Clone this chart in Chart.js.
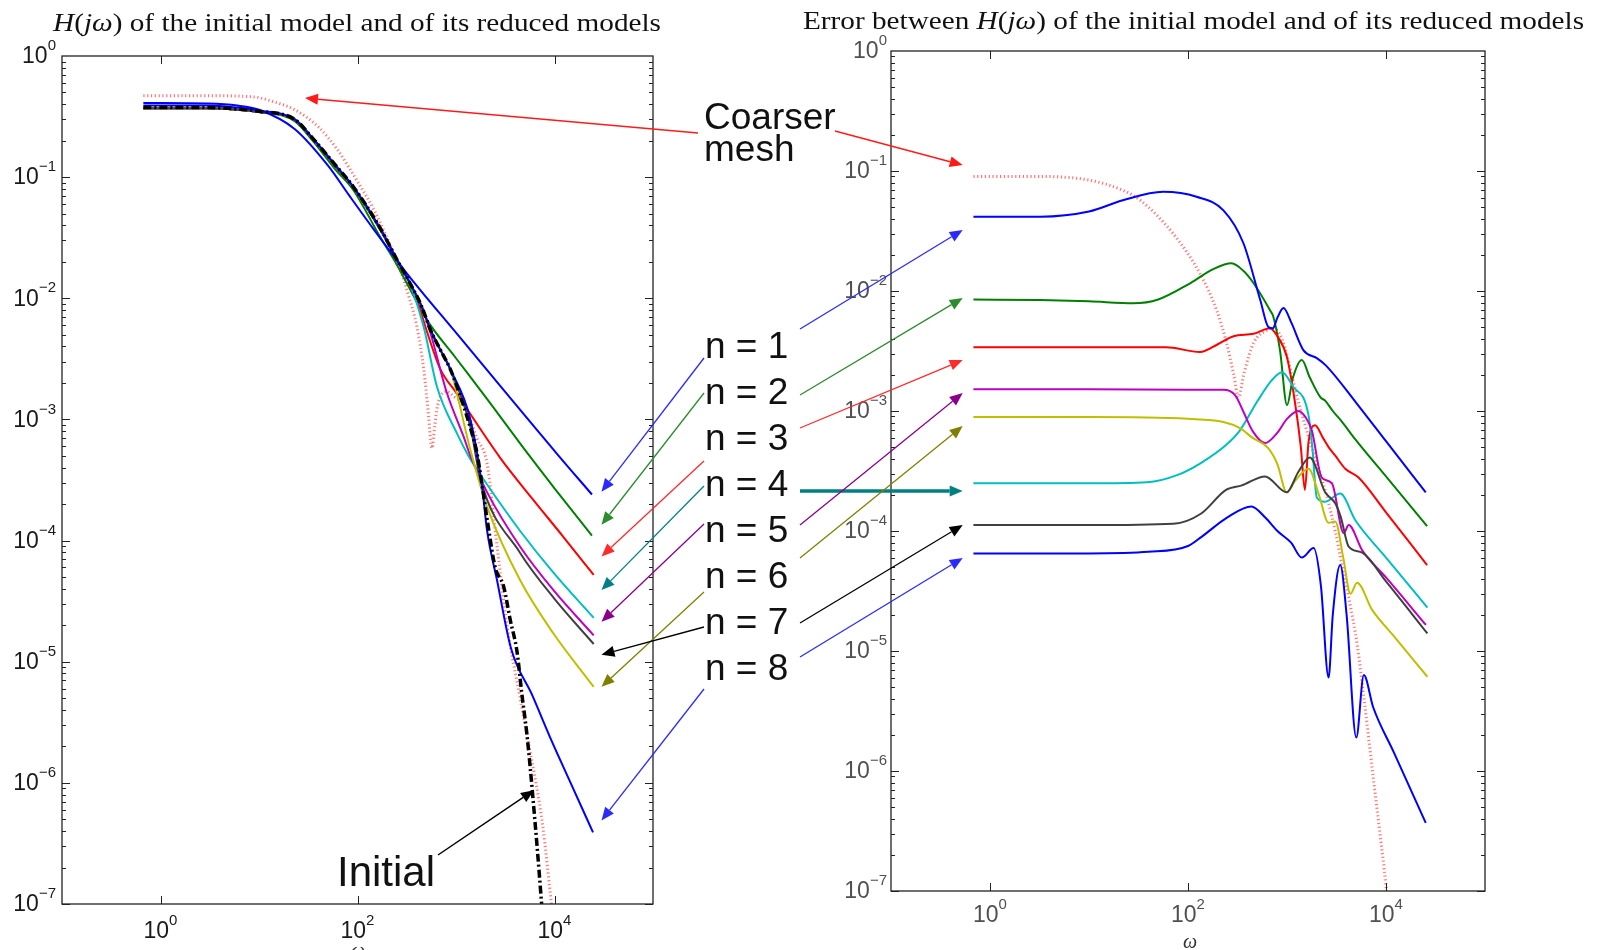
<!DOCTYPE html>
<html>
<head>
<meta charset="utf-8">
<script src="https://cdn.jsdelivr.net/npm/chart.js@4.4.0/dist/chart.umd.min.js"></script>
<style>
  body { margin: 0; width: 1600px; height: 950px; background: #fff; position: relative; overflow: hidden;
         font-family: "Liberation Sans", Arial, sans-serif; }
  canvas { position: absolute; top: 0; }
  #leftChart { left: 0; }
  #rightChart { left: 780px; }
  #overlay { left: 0; pointer-events: none; }
  .title { position: absolute; font-family: "Liberation Serif", serif; font-size: 26px; line-height: 1;
           white-space: nowrap; transform-origin: 0 0; color: #111; }
  .lbl { position: absolute; font-size: 37px; line-height: 1; white-space: nowrap; color: #111; }
  .axt { position: absolute; font-family: "Liberation Serif", serif; font-style: italic; font-size: 20px;
         line-height: 1; color: #333; }
</style>
</head>
<body>
<canvas id="leftChart" width="690" height="950"></canvas>
<canvas id="rightChart" width="820" height="950"></canvas>
<canvas id="overlay" width="1600" height="950"></canvas>

<div class="title" data-cx="357" data-w="608" style="top:10px"><i>H</i>(<i>jω</i>) of the initial model and of its reduced models</div>
<div class="title" data-cx="1193" data-w="781" style="top:8px">Error between <i>H</i>(<i>jω</i>) of the initial model and of its reduced models</div>
<div class="lbl" style="left:704px;top:98px">Coarser</div>
<div class="lbl" style="left:704px;top:130px">mesh</div>
<div class="lbl" style="left:337px;top:851px;font-size:42px">Initial</div>
<div class="axt" style="left:1183px;top:931px">ω</div>
<div class="axt" style="left:351px;top:940px">ω</div>

<script>
// axis ranges and tick labels (decade exponents)
const freqRange = [0.1, 1e5];
const magRange = [1e-7, 1];
const xTickExp = [0, 2, 4];
const yTickExp = [0, -1, -2, -3, -4, -5, -6, -7];

const modelLabels = ['n = 1', 'n = 2', 'n = 3', 'n = 4', 'n = 5', 'n = 6', 'n = 7', 'n = 8'];
const modelColors = ['#0000ff', '#008000', '#ff0000', '#00bfbf', '#bf00bf', '#bfbf00', '#404040', '#0000ff'];
const arrowColors = ['#2a2aff', '#2e8b2e', '#ff2a2a', '#008080', '#8b008b', '#808000', '#000000', '#2a2aff'];

// left panel: |H(jw)|, pairs [omega, magnitude]
const hCoarse = [[0.67,0.47],[3,0.47],[8.7,0.46],[14,0.42],[23,0.36],[40,0.26],[62,0.17],[100,0.092],[150,0.052],
  [205,0.03],[270,0.0175],[330,0.0105],[402,0.0058],[470,0.0026],[520,0.0012],[570,0.00058],[610,0.0009],
  [650,0.0013],[800,0.0017],[1000,0.0015],[1200,0.00135],[1630,0.0007],[2070,0.00043],[2610,0.00009],[3290,0.00002],
  [4480,0.000005],[5250,0.0000025],[7600,4.4e-7],[9300,1e-7],[10500,4e-8]];
const hInit = [[0.67,0.375],[3,0.375],[6,0.365],[10,0.35],[23,0.3],[35,0.21],[60,0.125],[91,0.083],[170,0.038],
  [250,0.021],[330,0.014],[450,0.0085],[550,0.0055],[700,0.0037],[875,0.0026],[1140,0.00145],[1400,0.00085],
  [1630,0.00053],[2070,0.00015],[2500,0.00006],[3040,0.000042],[3560,0.000022],[4170,0.000012],[4650,0.0000055],
  [5250,0.0000025],[6000,8e-7],[7400,1e-7],[8200,3e-8]];
const hN1 = [[0.67,0.41],[3,0.405],[6,0.39],[10,0.36],[23,0.25],[50,0.125],[83,0.07],[150,0.036],[318,0.016],
  [1000,0.0052],[10600,0.00052],[24000,0.00024]];
const hN2 = [[0.67,0.37],[3,0.37],[6,0.36],[10,0.345],[23,0.29],[35,0.2],[60,0.115],[91,0.078],[170,0.032],
  [250,0.019],[330,0.0125],[508,0.0066],[1000,0.0032],[2000,0.00153],[5680,0.00049],[10000,0.00027],[24000,0.00011]];
const hN3 = [[0.67,0.37],[3,0.37],[6,0.36],[10,0.345],[23,0.3],[35,0.21],[60,0.122],[91,0.082],[170,0.037],
  [250,0.021],[330,0.014],[400,0.0098],[500,0.0055],[693,0.0026],[1000,0.00167],[2820,0.00048],[6000,0.00022],
  [12000,0.00011],[25000,0.000052]];
const hN4 = [[0.67,0.37],[3,0.37],[6,0.36],[10,0.345],[23,0.3],[35,0.21],[60,0.122],[91,0.082],[170,0.037],
  [250,0.021],[330,0.014],[470,0.0058],[641,0.00186],[1020,0.00077],[1340,0.0005],[2070,0.00029],[4480,0.00012],
  [10000,0.000053],[25000,0.000023]];
const hN5 = [[0.67,0.37],[3,0.37],[6,0.36],[10,0.345],[23,0.3],[35,0.21],[60,0.122],[91,0.082],[170,0.037],
  [250,0.021],[330,0.014],[450,0.0085],[550,0.0052],[800,0.0017],[1195,0.00072],[1400,0.0005],[2070,0.00025],
  [4480,0.000089],[10000,0.000038],[25000,0.0000165]];
const hN6 = [[0.67,0.37],[3,0.37],[6,0.36],[10,0.345],[23,0.3],[35,0.21],[60,0.122],[91,0.082],[170,0.037],
  [250,0.021],[330,0.014],[450,0.0085],[550,0.0055],[700,0.0037],[875,0.0026],[1400,0.00056],[2070,0.00019],
  [4480,0.000047],[9800,0.000017],[25000,0.0000062]];
const hN7 = [[0.67,0.37],[3,0.37],[6,0.36],[10,0.345],[23,0.3],[35,0.21],[60,0.122],[91,0.082],[170,0.037],
  [250,0.021],[330,0.014],[450,0.0085],[550,0.0055],[700,0.0037],[875,0.0026],[1400,0.00087],[1770,0.00032],
  [4480,0.000079],[10000,0.000033],[25000,0.000014]];
const hN8 = [[0.67,0.39],[3,0.39],[6,0.375],[10,0.355],[23,0.3],[35,0.21],[60,0.125],[91,0.083],[170,0.038],
  [250,0.021],[330,0.014],[450,0.0085],[550,0.0055],[700,0.0037],[875,0.0026],[1400,0.001],[1840,0.00028],
  [2070,0.00012],[2610,0.000047],[3610,0.000013],[6000,0.0000052],[9400,0.0000022],[15000,9.5e-7],[24600,3.9e-7]];

// right panel: error magnitude, pairs [omega, error]
const eCoarse = [[0.68,0.09],[3.2,0.09],[10,0.084],[22,0.069],[33,0.057],[71,0.03],[132,0.014],[195,0.0069],
  [245,0.0037],[290,0.002],[323,0.0013],[370,0.0021],[460,0.0037],[625,0.0047],[720,0.0049],[900,0.0039],
  [1100,0.0021],[1339,0.0011],[1932,0.0004],[2500,0.0002],[3070,0.0001],[3564,0.000054],[4200,0.000028],
  [5140,0.000011],[6000,0.000004],[7420,9e-7],[8500,3.5e-7],[10000,1.1e-7],[10500,7e-8]];
const eN1 = [[0.68,0.0415],[3.2,0.0416],[10,0.046],[22,0.057],[56,0.067],[122,0.061],[228,0.047],[363,0.025],
  [537,0.0084],[650,0.005],[720,0.0049],[800,0.006],[922,0.0072],[1100,0.0055],[1470,0.0032],[2000,0.00276],
  [2467,0.0024],[5000,0.00117],[10000,0.00056],[25200,0.00021]];
const eN2 = [[0.68,0.0085],[3.2,0.0084],[10,0.0082],[28,0.0079],[50,0.0085],[105,0.0116],[180,0.0152],[275,0.017],
  [360,0.0148],[460,0.0116],[674,0.0069],[728,0.0061],[850,0.0032],[1000,0.00112],[1150,0.0019],[1410,0.00266],
  [1700,0.0019],[2180,0.0013],[2430,0.00122],[2900,0.001],[3564,0.00082],[4900,0.00058],[10000,0.000285],
  [26000,0.00011]];
const eN3 = [[0.68,0.0034],[10,0.0034],[60,0.0034],[132,0.0031],[200,0.0036],[288,0.0042],[460,0.0044],[674,0.0049],
  [800,0.0042],[1000,0.0028],[1200,0.0012],[1380,0.0005],[1515,0.00022],[1650,0.00055],[1920,0.00076],
  [2300,0.0006],[2630,0.0005],[3100,0.00042],[3880,0.00033],[5250,0.00028],[10000,0.000143],[26000,0.000052]];
const eN4 = [[0.68,0.00025],[10,0.00025],[38.6,0.000255],[80,0.000295],[136,0.00037],[242,0.00052],[335,0.00069],
  [500,0.0012],[700,0.0018],[890,0.0021],[1150,0.0016],[1650,0.00092],[1800,0.0005],[2000,0.00019],[2400,0.000175],
  [3450,0.000205],[4900,0.000123],[10000,0.00006],[26200,0.000023]];
const eN5 = [[0.68,0.00152],[10,0.00152],[100,0.0015],[228,0.0015],[300,0.00135],[360,0.001],[450,0.00068],
  [600,0.00054],[800,0.00066],[1000,0.00086],[1300,0.001],[1550,0.00088],[1780,0.00069],[2240,0.00028],
  [2840,0.00025],[3740,0.000096],[4200,0.000112],[5750,0.000069],[10000,0.000041],[25300,0.0000165]];
const eN6 = [[0.68,0.00089],[10,0.00089],[100,0.00086],[228,0.00081],[335,0.00072],[446,0.0006],[646,0.00049],
  [800,0.00036],[993,0.00021],[1200,0.00026],[1650,0.00033],[2100,0.0002],[2630,0.000117],[3070,0.00012],
  [3700,0.00006],[4370,0.00003],[5100,0.000037],[7250,0.000022],[12000,0.0000133],[26200,0.0000061]];
const eN7 = [[0.68,0.000112],[10,0.000112],[71,0.000115],[136,0.00014],[242,0.00022],[350,0.00024],[600,0.000285],
  [993,0.00021],[1300,0.00031],[1700,0.00041],[2430,0.00021],[3070,0.00017],[3500,0.00013],[4200,0.000074],
  [5750,0.000066],[10000,0.000038],[26200,0.000014]];
const eN8 = [[0.68,0.000065],[10,0.000065],[40,0.000067],[100,0.000075],[136,0.000089],[250,0.00013],[437,0.00016],
  [600,0.00013],[800,0.0001],[1100,0.00008],[1410,0.00006],[1860,0.000072],[2200,0.000035],[2630,0.000006],
  [2900,0.00002],[3450,0.000052],[4000,0.00002],[5010,0.0000019],[5970,0.0000063],[7420,0.0000034],
  [12000,0.00000143],[25200,3.7e-7]];

// where the annotation arrows point, in data units of each panel
const leftTips = [[3e4,2.53e-4],[3e4,1.35e-4],[3e4,7.4e-5],[3e4,3.9e-5],[3e4,2.14e-5],[3e4,6.2e-6],[3e4,1.14e-5],[3e4,4.9e-7]];
const rightTips = [[0.53,0.0322],[0.53,8.74e-3],[0.53,2.66e-3],[0.53,2.15e-4],[0.53,1.41e-3],[0.53,7.5e-4],[0.53,1.12e-4],[0.53,5.96e-5]];
const coarseTips = [[29.3, 0.45], [0.53, 0.112]];
const initialTip = [6190, 8.7e-7];

function pts(arr) { return arr.map(p => ({ x: p[0], y: p[1] })); }

function solid(arr, color) {
  return { data: pts(arr), borderColor: color, borderWidth: 2 };
}
function coarse(arr) {
  return { data: pts(arr), borderColor: 'rgba(255,60,60,0.7)', borderWidth: 3, borderDash: [1.2, 2.6], borderCapStyle: 'butt' };
}

// frame, inward tick marks and 10^k labels
const axisFrame = {
  id: 'axisFrame',
  afterDraw(chart, args, opts) {
    const { ctx, chartArea: a, scales: { x, y } } = chart;
    ctx.save();
    ctx.strokeStyle = '#222';
    ctx.lineWidth = 1.3;
    ctx.strokeRect(a.left, a.top, a.right - a.left, a.bottom - a.top);
    ctx.lineWidth = 1;
    ctx.beginPath();
    const e0 = Math.round(Math.log10(y.min)), e1 = Math.round(Math.log10(y.max));
    for (let e = e0; e < e1; e++) {
      for (let m = 1; m < 10; m++) {
        const py = Math.round(y.getPixelForValue(m * Math.pow(10, e))) + 0.5;
        const len = m === 1 ? 8 : 4;
        ctx.moveTo(a.left, py); ctx.lineTo(a.left + len, py);
        ctx.moveTo(a.right, py); ctx.lineTo(a.right - len, py);
      }
    }
    x.ticks.forEach(t => {
      const px = Math.round(x.getPixelForValue(t.value)) + 0.5;
      ctx.moveTo(px, a.bottom); ctx.lineTo(px, a.bottom - 8);
      ctx.moveTo(px, a.top); ctx.lineTo(px, a.top + 8);
    });
    ctx.stroke();

    ctx.fillStyle = opts.color;
    ctx.textBaseline = 'middle';
    const big = '23px "Liberation Sans", Arial', small = '15px "Liberation Sans", Arial';
    const label = (v, cx, cy, mode) => {
      const ex = String(Math.round(Math.log10(v))).replace('-', '\u2212');
      ctx.font = big; const wb = ctx.measureText('10').width;
      ctx.font = small; const ws = ctx.measureText(ex).width;
      const left = mode === 'y' ? cx - wb - ws : cx - (wb + ws) / 2;
      ctx.font = big; ctx.textAlign = 'left'; ctx.fillText('10', left, cy);
      ctx.font = small; ctx.fillText(ex, left + wb, cy - 11);
    };
    y.ticks.forEach(t => label(t.value, a.left - opts.yGap, y.getPixelForValue(t.value) + 1, 'y'));
    x.ticks.forEach(t => label(t.value, x.getPixelForValue(t.value), a.bottom + opts.xGap, 'x'));
    ctx.restore();
  }
};

function options(pad, yWidth, xHeight, labelColor, yGap, xGap) {
  const axis = (range, exps, fit) => ({
    type: 'logarithmic', min: range[0], max: range[1],
    grid: { display: false }, border: { display: false }, ticks: { display: false },
    afterBuildTicks: s => { s.ticks = exps.map(e => ({ value: Math.pow(10, e) })); },
    afterFit: fit
  });
  return {
    responsive: false, animation: false, devicePixelRatio: 1,
    layout: { padding: pad },
    elements: { point: { radius: 0 }, line: { cubicInterpolationMode: 'monotone', borderJoinStyle: 'round' } },
    plugins: { legend: { display: false }, tooltip: { enabled: false },
               axisFrame: { color: labelColor, yGap: yGap, xGap: xGap } },
    scales: {
      x: axis(freqRange, xTickExp, s => { s.height = xHeight; }),
      y: axis(magRange, yTickExp, s => { s.width = yWidth; })
    }
  };
}

const leftChart = new Chart(document.getElementById('leftChart'), {
  type: 'line',
  data: { datasets: [
    { data: pts(hInit), borderColor: '#000', borderWidth: 3.5, borderDash: [8, 3, 2, 3] },
    solid(hN8, modelColors[7]), solid(hN1, modelColors[0]), solid(hN7, modelColors[6]),
    solid(hN6, modelColors[5]), solid(hN5, modelColors[4]), solid(hN4, modelColors[3]),
    solid(hN3, modelColors[2]), solid(hN2, modelColors[1]), coarse(hCoarse)
  ] },
  options: options({ left: 0, top: 56, right: 37, bottom: 0 }, 62, 46, '#1a1a1a', 6, 28),
  plugins: [axisFrame]
});

const rightChart = new Chart(document.getElementById('rightChart'), {
  type: 'line',
  data: { datasets: [
    solid(eN8, modelColors[7]), solid(eN1, modelColors[0]), solid(eN7, modelColors[6]),
    solid(eN6, modelColors[5]), solid(eN5, modelColors[4]), solid(eN4, modelColors[3]),
    solid(eN3, modelColors[2]), solid(eN2, modelColors[1]), coarse(eCoarse)
  ] },
  options: options({ left: 0, top: 51, right: 115, bottom: 0 }, 111, 59, '#505050', 4, 25),
  plugins: [axisFrame]
});

// labels for the reduced models
modelLabels.forEach((t, i) => {
  const d = document.createElement('div');
  d.className = 'lbl';
  d.textContent = t;
  d.style.left = '705px';
  d.style.top = (327 + i * 46) + 'px';
  document.body.appendChild(d);
});

// stretch the titles to the reference width
document.querySelectorAll('.title').forEach(el => {
  const w = +el.dataset.w, cx = +el.dataset.cx;
  const s = w / el.getBoundingClientRect().width;
  el.style.transform = 'scaleX(' + s + ')';
  el.style.left = (cx - w / 2) + 'px';
});

// arrows
function tip(chart, p) {
  return [chart.canvas.offsetLeft + chart.scales.x.getPixelForValue(p[0]), chart.scales.y.getPixelForValue(p[1])];
}
function arrow(ctx, x0, y0, x1, y1, color, lw) {
  const ang = Math.atan2(y1 - y0, x1 - x0), L = 13, W = 5.5;
  const bx = x1 - L * Math.cos(ang), by = y1 - L * Math.sin(ang);
  ctx.strokeStyle = color; ctx.fillStyle = color; ctx.lineWidth = lw;
  ctx.beginPath(); ctx.moveTo(x0, y0); ctx.lineTo(bx, by); ctx.stroke();
  ctx.beginPath(); ctx.moveTo(x1, y1);
  ctx.lineTo(bx + W * Math.sin(ang), by - W * Math.cos(ang));
  ctx.lineTo(bx - W * Math.sin(ang), by + W * Math.cos(ang));
  ctx.closePath(); ctx.fill();
}

const leftTails = [358, 393, 461, 486, 524, 592, 627, 689];
const rightTails = [329, 395, 428, 491, 525, 558, 623, 657];
const octx = document.getElementById('overlay').getContext('2d');
modelLabels.forEach((t, i) => {
  const a = tip(leftChart, leftTips[i]);
  arrow(octx, 704, leftTails[i], a[0], a[1], arrowColors[i], 1.3);
  const b = tip(rightChart, rightTips[i]);
  arrow(octx, 800, rightTails[i], b[0], b[1], arrowColors[i], i === 3 ? 3.5 : 1.3);
});
let c = tip(leftChart, coarseTips[0]);
arrow(octx, 698, 133, c[0], c[1], '#ff1a1a', 1.5);
c = tip(rightChart, coarseTips[1]);
arrow(octx, 835, 131, c[0], c[1], '#ff1a1a', 1.5);
c = tip(leftChart, initialTip);
arrow(octx, 438, 855, c[0], c[1], '#000', 1.5);
</script>
</body>
</html>
